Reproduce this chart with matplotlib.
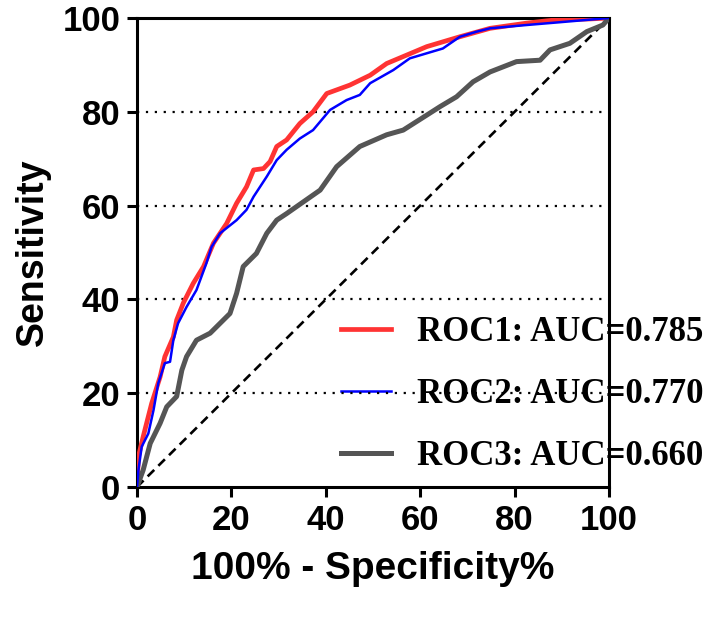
import matplotlib
matplotlib.use("Agg")
import matplotlib.pyplot as plt

# ROC1 (red)
roc1_fpr = [0, 0.3, 1.3, 3.1, 4.9, 5.9, 7.7, 8.4, 9.8, 11.9, 14.1, 16.2, 19.0, 21.1, 23.2, 24.7,
            26.8, 28.2, 29.6, 31.7, 34.5, 37.3, 40.2, 45.1, 49.4, 52.9, 61.4, 68.4, 74.8, 76.9,
            82.5, 86.8, 88.9, 96.0, 100]
roc1_tpr = [0, 6.5, 10.7, 17.8, 23.5, 27.8, 32.0, 35.6, 39.2, 43.4, 47.0, 52.0, 56.2, 60.5, 64.0, 67.6,
            67.9, 69.4, 72.6, 74.0, 77.5, 80.0, 83.9, 85.7, 87.8, 90.3, 93.9, 96.0, 97.8, 98.1,
            98.9, 99.4, 99.6, 99.8, 100]

# ROC2 (blue)
roc2_fpr = [0, 0.3, 1.0, 2.4, 3.5, 4.5, 5.9, 7.0, 7.7, 8.7, 10.5, 12.6, 14.7, 15.8, 17.6, 21.1,
            23.2, 24.7, 27.5, 29.6, 31.7, 34.5, 37.3, 40.9, 44.4, 47.2, 49.4, 54.3, 57.8, 64.8,
            68.4, 72.0, 74.8, 82.5, 89.6, 100]
roc2_tpr = [0, 3.6, 8.6, 11.4, 16.4, 22.1, 26.4, 26.7, 31.3, 34.9, 38.4, 42.0, 47.7, 51.2, 54.1, 56.9,
            59.1, 61.9, 66.2, 69.7, 71.9, 74.3, 76.1, 80.4, 82.5, 83.6, 86.1, 88.9, 91.4, 93.5,
            96.0, 97.1, 97.8, 98.5, 99.1, 100]

# ROC3 (grey)
roc3_fpr = [0, 1.3, 2.8, 4.9, 6.3, 8.4, 9.5, 10.5, 12.6, 15.5, 17.6, 19.7, 21.1, 22.5, 25.3, 27.5,
            29.6, 31.7, 38.8, 42.3, 47.2, 52.9, 56.4, 61.4, 64.2, 67.7, 71.2, 74.8, 80.4, 85.4,
            87.5, 91.7, 95.3, 98.7, 100]
roc3_tpr = [0, 3.6, 9.3, 13.6, 17.1, 19.3, 24.9, 27.8, 31.3, 32.8, 34.9, 37.0, 41.3, 47.0, 49.8, 54.1,
            56.9, 58.3, 63.3, 68.3, 72.6, 75.1, 76.1, 79.3, 81.1, 83.2, 86.4, 88.5, 90.7, 91.0,
            93.2, 94.6, 97.1, 98.5, 100]

labels = ["ROC1: AUC=0.785", "ROC2: AUC=0.770", "ROC3: AUC=0.660"]
ticks = [0, 20, 40, 60, 80, 100]
grid_levels = [20, 40, 60, 80]

plt.rcParams['font.family'] = ['Liberation Sans', 'DejaVu Sans']
fig = plt.figure(figsize=(7.09, 6.17), dpi=100)
ax = fig.add_axes([137/709, 1-487/617, 472/709, 469/617])

for g in grid_levels:
    ax.axhline(g, color='black', lw=1.6, ls=(0, (1, 3)), zorder=1)

ax.plot([0, 100], [0, 100], color='black', lw=1.9, ls=(0, (3.5, 2.2)), zorder=2)
l1, = ax.plot(roc1_fpr, roc1_tpr, color='#ff3333', lw=3.4, zorder=3, label=labels[0])
l2, = ax.plot(roc2_fpr, roc2_tpr, color='#0000ff', lw=1.8, zorder=4, label=labels[1])
l3, = ax.plot(roc3_fpr, roc3_tpr, color='#555555', lw=3.6, zorder=3, label=labels[2])

ax.set_xlim(0, 100)
ax.set_ylim(0, 100)
ax.set_xticks(ticks)
ax.set_yticks(ticks)
ax.tick_params(direction='out', length=7, width=2.2, labelsize=25, pad=5)
for lab in ax.get_xticklabels() + ax.get_yticklabels():
    lab.set_fontweight('bold')
for s in ax.spines.values():
    s.set_linewidth(2.2)

ax.set_xlabel("100% - Specificity%", fontsize=28, fontweight='bold', labelpad=10)
ax.set_ylabel("Sensitivity", fontsize=27, fontweight='bold', labelpad=8)

leg = ax.legend(handles=[l1, l2, l3], loc='lower left', bbox_to_anchor=(0.4025, 0.0),
                frameon=False, handlelength=1.45, handletextpad=0.75, labelspacing=0.83,
                prop={'family': 'Liberation Serif', 'weight': 'bold', 'size': 25}, borderaxespad=0)
leg.set_zorder(0.9)

fig.savefig("out.png", dpi=100)
